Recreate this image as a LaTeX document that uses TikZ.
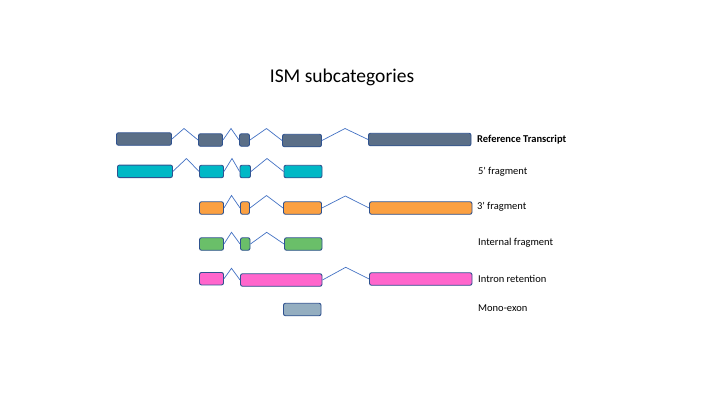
\documentclass[tikz,border=0pt]{standalone}
\usepackage{fontspec}
\setmainfont{Carlito}[Ligatures=TeXOff]
\begin{document}
\begin{tikzpicture}[x=1pt,y=-1pt,
  exon/.style={draw=exonborder,line width=0.9pt,rounded corners=2pt,inner sep=0pt,minimum height=12.5pt},
  intron/.style={draw=intronblue,line width=0.7pt},
  lbl/.style={anchor=west,inner sep=0pt,font=\fontsize{10.5}{12}\selectfont}]
\definecolor{exonborder}{HTML}{2F528F}
\definecolor{intronblue}{HTML}{4472C4}
\definecolor{refc}{HTML}{5B6F87}
\definecolor{cyanc}{HTML}{00B8C6}
\definecolor{orangec}{HTML}{FBA041}
\definecolor{greenc}{HTML}{6ABF69}
\definecolor{pinkc}{HTML}{FF66CC}
\definecolor{monoc}{HTML}{94AEC0}
\useasboundingbox (0,0) rectangle (720,405);
\fill[white] (0,0) rectangle (720,405);
\node[font=\fontsize{19.5}{23}\selectfont] (title) at (342,77) {ISM subcategories};
% Row 1 reference
\newcommand{\ex}[5]{\node[exon,fill=#1,minimum width={#4-#3}] (#2) at ({(#3+#4)/2},#5) {};}
\ex{refc}{r1}{116.5}{171.5}{139}
\ex{refc}{r2}{198.5}{222.5}{140}
\ex{refc}{r3}{239.5}{249.5}{140}
\ex{refc}{r4}{282.5}{321.5}{140.5}
\ex{refc}{r5}{368.5}{471}{139.5}
\coordinate (r1p) at (184,128.5);
\coordinate (r2p) at (231,128.5);
\coordinate (r3p) at (266.5,128.5);
\coordinate (r4p) at (345,128.5);
\draw[intron] (r1.east) -- (r1p) -- (r2.west);
\draw[intron] (r2.east) -- (r2p) -- (r3.west);
\draw[intron] (r3.east) -- (r3p) -- (r4.west);
\draw[intron] (r4.east) -- (r4p) -- (r5.west);
\node[lbl,font=\fontsize{10.5}{12}\selectfont\bfseries] (l1) at (477,139.5) {Reference Transcript};
% Row 2 5'
\ex{cyanc}{a1}{117.5}{172.5}{171.3}
\ex{cyanc}{a2}{199.5}{223.5}{171.5}
\ex{cyanc}{a3}{240}{250.5}{171.5}
\ex{cyanc}{a4}{284}{322}{171.5}
\coordinate (a1p) at (186.5,158.5);
\coordinate (a2p) at (232,158.5);
\coordinate (a3p) at (267,158.5);
\draw[intron] (a1.east) -- (a1p) -- (a2.west);
\draw[intron] (a2.east) -- (a2p) -- (a3.west);
\draw[intron] (a3.east) -- (a3p) -- (a4.west);
\node[lbl] (l2) at (478,171.5) {5' fragment};
% Row 3 3'
\ex{orangec}{b2}{199.5}{223.5}{208}
\ex{orangec}{b3}{240.5}{249.5}{208}
\ex{orangec}{b4}{283.5}{321.5}{208}
\ex{orangec}{b5}{369.5}{472}{208}
\coordinate (b2p) at (231.5,195.5);
\coordinate (b3p) at (266.5,195.5);
\coordinate (b4p) at (345.3,196);
\draw[intron] (b2.east) -- (b2p) -- (b3.west);
\draw[intron] (b3.east) -- (b3p) -- (b4.west);
\draw[intron] (b4.east) -- (b4p) -- (b5.west);
\node[lbl] (l3) at (477,207) {3' fragment};
% Row 4 internal
\ex{greenc}{c2}{199.5}{223.5}{244}
\ex{greenc}{c3}{240.5}{250}{244}
\ex{greenc}{c4}{284.5}{322}{244}
\coordinate (c2p) at (231.5,232.3);
\coordinate (c3p) at (266.7,232.3);
\draw[intron] (c2.east) -- (c2p) -- (c3.west);
\draw[intron] (c3.east) -- (c3p) -- (c4.west);
\node[lbl] (l4) at (478,243) {Internal fragment};
% Row 5 intron retention
\ex{pinkc}{d2}{199.5}{223.5}{278.7}
\ex{pinkc}{d3}{240.5}{322}{280}
\ex{pinkc}{d5}{369.5}{472}{279}
\coordinate (d2p) at (231.5,268.3);
\coordinate (d3p) at (345.7,267.3);
\draw[intron] (d2.east) -- (d2p) -- (d3.west);
\draw[intron] (d3.east) -- (d3p) -- (d5.west);
\node[lbl] (l5) at (478,278.5) {Intron retention};
% Row 6 mono-exon
\ex{monoc}{e4}{283.5}{321}{309.5}
\node[lbl] (l6) at (478,308.5) {Mono-exon};
\end{tikzpicture}
\end{document}
